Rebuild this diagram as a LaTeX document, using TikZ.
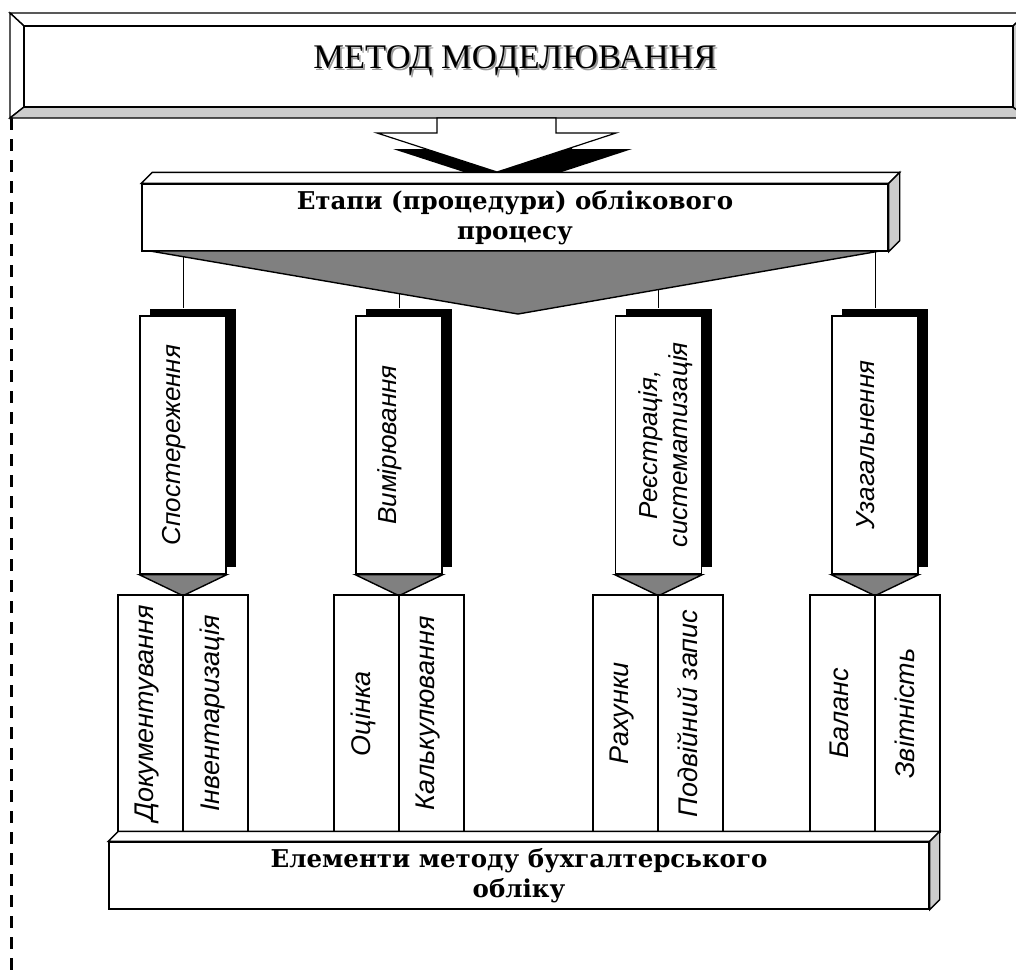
\documentclass[tikz,border=0pt]{standalone}
\usepackage{fontspec}
\setmainfont{Liberation Serif}
\newfontfamily\headserif{DejaVu Serif}
\newfontfamily\labelsans{Liberation Sans}
\usetikzlibrary{shadows}

\definecolor{facegray}{HTML}{CCCCCC}
\definecolor{tipgray}{HTML}{808080}
\definecolor{shadegray}{HTML}{999999}

\tikzset{
  outline/.style={draw=black, line width=1.4pt, line join=miter},
  stagebox/.style={outline, fill=white, minimum width=86pt, minimum height=258pt, inner sep=0pt,
    drop shadow={shadow xshift=10pt, shadow yshift=7pt, fill=black, opacity=1}},
  elembox/.style={outline, fill=white, minimum width=65pt, minimum height=237pt, inner sep=0pt},
  stagetext/.style={rotate=90, font=\labelsans\itshape\fontsize{26}{30}\selectfont, align=center, inner sep=0pt},
  elemtext/.style={rotate=90, font=\labelsans\itshape\fontsize{27}{30}\selectfont, inner sep=0pt},
  headbox/.style={outline, fill=white, inner sep=0pt, align=center,
    font=\headserif\bfseries\fontsize{24.5}{30}\selectfont},
  tip/.style={outline, fill=tipgray},
  link/.style={draw=black, line width=1pt},
  sideface/.style={outline, fill=facegray},
  topface/.style={outline, fill=white},
}

% the hollow arrow under the title panel
\newcommand\downarrowshape[1]{%
  \path[#1] (437,118) -- (556,118) -- (556,133) -- (616,133) -- (497,172)
    -- (377,133) -- (437,133) -- cycle;}

\begin{document}
\begin{tikzpicture}[x=1pt,y=-1pt]
\useasboundingbox (0,0) rectangle (1016,978);
\clip (0,0) rectangle (1016,978);

% dashed rule along the left side
\coordinate (dtop) at (11.5,118);
\coordinate (dbot) at (11.5,978);
\draw[line width=3.5pt, dash pattern=on 12pt off 9pt] (dtop) -- (dbot);

% bevelled title panel
\coordinate (oTL) at (10,13);
\coordinate (oTR) at (1027,13);
\coordinate (oBR) at (1027,118);
\coordinate (oBL) at (10,118);
\coordinate (iTL) at (24,26);
\coordinate (iTR) at (1013,26);
\coordinate (iBR) at (1013,107);
\coordinate (iBL) at (24,107);
\filldraw[topface] (oTL) -- (oTR) -- (iTR) -- (iTL) -- cycle;
\filldraw[topface] (oTL) -- (iTL) -- (iBL) -- (oBL) -- cycle;
\filldraw[sideface] (oBL) -- (iBL) -- (iBR) -- (oBR) -- cycle;
\filldraw[sideface] (oTR) -- (iTR) -- (iBR) -- (oBR) -- cycle;
\node[outline, fill=white, minimum width=989pt, minimum height=81pt, inner sep=0pt] (title) at (518.5,66.5) {};
\node[font=\fontsize{34.5}{36}\selectfont, text=shadegray, inner sep=0pt] (titleshade) at ([shift={(1.8,1.8)}]515,61) {МЕТОД МОДЕЛЮВАННЯ};
\node[font=\fontsize{34.5}{36}\selectfont, inner sep=0pt] (titletext) at (515,61) {МЕТОД МОДЕЛЮВАННЯ};

% arrow with its black shadow
\downarrowshape{fill=black, shift={(16,16)}}
\downarrowshape{outline, line width=1.2pt, fill=white}

% stages box
\node[headbox, minimum width=746pt, minimum height=67pt] (etapy) at (515,217.5)
  {Етапи (процедури) облікового\\процесу};
\filldraw[topface] (etapy.north west) -- ([shift={(11,-11)}]etapy.north west)
  -- ([shift={(11,-11)}]etapy.north east) -- (etapy.north east) -- cycle;
\filldraw[sideface] (etapy.north east) -- ([shift={(11,-11)}]etapy.north east)
  -- ([shift={(11,-11)}]etapy.south east) -- (etapy.south east) -- cycle;

% stage boxes
\node[stagebox] (s1) at (183,445) {};
\node[stagebox] (s2) at (399,445) {};
\node[stagebox] (s3) at (658.5,445) {};
\node[stagebox] (s4) at (875,445) {};
\node[stagetext] (s1t) at ([xshift=-9pt]s1.center) {Спостереження};
\node[stagetext] (s2t) at ([xshift=-9pt]s2.center) {Вимірювання};
\node[stagetext] (s3t) at ([xshift=7pt]s3.center) {Реєстрація,\\систематизація};
\node[stagetext] (s4t) at ([xshift=-9pt]s4.center) {Узагальнення};

% links from the stages box to each stage
\foreach \s in {s1,s2,s3,s4}
  \draw[link] (\s.north |- etapy.south) -- ([yshift=7pt]\s.north);

% grey wedge under the stages box
\coordinate (wedgeL) at (150,251);
\coordinate (wedgeR) at (880,251);
\coordinate (wedgeTip) at (518,314);
\filldraw[tip] (wedgeL) -- (wedgeR) -- (wedgeTip) -- cycle;

% pointers under the stage boxes
\foreach \s in {s1,s2,s3,s4}
  \filldraw[tip] (\s.south west) -- (\s.south east) -- ([yshift=-21pt]\s.south) -- cycle;

% element boxes
\node[elembox] (e1) at (150.5,713.5) {};
\node[elembox] (e2) at (215.5,713.5) {};
\node[elembox] (e3) at (366.5,713.5) {};
\node[elembox] (e4) at (431.5,713.5) {};
\node[elembox] (e5) at (625.5,713.5) {};
\node[elembox] (e6) at (690.5,713.5) {};
\node[elembox] (e7) at (842.5,713.5) {};
\node[elembox] (e8) at (907.5,713.5) {};
\node[elemtext] (e1t) at ([xshift=-3pt]e1.center) {Документування};
\node[elemtext] (e2t) at ([xshift=-3pt]e2.center) {Інвентаризація};
\node[elemtext] (e3t) at ([xshift=-3pt]e3.center) {Оцінка};
\node[elemtext] (e4t) at ([xshift=-3pt]e4.center) {Калькулювання};
\node[elemtext] (e5t) at ([xshift=-3pt]e5.center) {Рахунки};
\node[elemtext] (e6t) at ([xshift=-3pt]e6.center) {Подвійний запис};
\node[elemtext] (e7t) at ([xshift=-3pt]e7.center) {Баланс};
\node[elemtext] (e8t) at ([xshift=-3pt]e8.center) {Звітність};

% elements box
\node[headbox, minimum width=820pt, minimum height=67pt] (elem) at (519,875.5)
  {Елементи методу бухгалтерського\\обліку};
\filldraw[topface] (elem.north west) -- ([shift={(10,-10)}]elem.north west)
  -- ([shift={(10,-10)}]elem.north east) -- (elem.north east) -- cycle;
\filldraw[sideface] (elem.north east) -- ([shift={(10,-10)}]elem.north east)
  -- ([shift={(10,-10)}]elem.south east) -- (elem.south east) -- cycle;
\end{tikzpicture}
\end{document}
